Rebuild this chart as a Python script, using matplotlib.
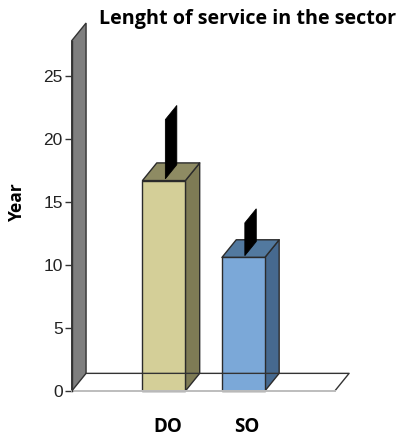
import matplotlib
matplotlib.use("Agg")
import matplotlib.pyplot as plt
from matplotlib.patches import Polygon

# mean years of service and upper end of the spread, per group
groups = ["DO", "SO"]
means = [16.7, 10.6]
upper = [21.4, 13.2]
yticks = [0, 5, 10, 15, 20, 25]

front_colors = ["#d4cf98", "#7ba8d8"]
top_colors = ["#8e8b63", "#52799f"]
side_colors = ["#7e7b55", "#46698f"]

DX, DY = 0.18, 1.4        # depth offset of the 3D box (data units)
HALF_W = 0.27             # half width of a bar front
WALL_X = -1.16            # left wall / value axis position
WALL_TOP = 27.8
FLOOR_RIGHT = 2.15


def box(ax, xc, h, front, top, side):
    x0, x1 = xc - HALF_W, xc + HALF_W
    kw = dict(edgecolor="#2b2b2b", linewidth=1.0, joinstyle="round")
    ax.add_patch(Polygon([(x1, 0), (x1 + DX, DY), (x1 + DX, h + DY), (x1, h)],
                         facecolor=side, **kw))
    ax.add_patch(Polygon([(x0, h), (x1, h), (x1 + DX, h + DY), (x0 + DX, h + DY)],
                         facecolor=top, **kw))
    ax.add_patch(Polygon([(x0, 0), (x1, 0), (x1, h), (x0, h)],
                         facecolor=front, **kw))


def pin(ax, xc, lo, hi):
    a, b = 0.1, 0.9
    ax.add_patch(Polygon([(xc + a * DX, lo + a * DY), (xc + b * DX, lo + b * DY),
                          (xc + b * DX, hi + b * DY), (xc + a * DX, hi + a * DY)],
                         facecolor="black", edgecolor="black", linewidth=0.6))


fig = plt.figure(figsize=(4.0, 4.36), dpi=100)
ax = fig.add_axes([0.1615, 0.0743, 0.745, 0.896])
ax.set_xlim(-1.25, 2.5)
ax.set_ylim(-1, 30)

# floor
ax.add_patch(Polygon([(WALL_X, 0), (FLOOR_RIGHT, 0), (FLOOR_RIGHT + DX, DY), (WALL_X + DX, DY)],
                     facecolor="white", edgecolor="none"))
ax.plot([WALL_X + DX, FLOOR_RIGHT + DX, FLOOR_RIGHT], [DY, DY, 0], color="#333333", lw=1.0)
ax.plot([WALL_X, FLOOR_RIGHT], [0, 0], color="#bdbdbd", lw=1.4)

# left wall
ax.add_patch(Polygon([(WALL_X, 0), (WALL_X, WALL_TOP), (WALL_X + DX, WALL_TOP + DY), (WALL_X + DX, DY)],
                     facecolor="#7f7f7f", edgecolor="#333333", linewidth=1.0))

for i, g in enumerate(groups):
    box(ax, i, means[i], front_colors[i], top_colors[i], side_colors[i])
    pin(ax, i, means[i], upper[i])

for s in ["top", "right", "bottom"]:
    ax.spines[s].set_visible(False)
ax.spines["left"].set_position(("data", WALL_X))
ax.spines["left"].set_bounds(0, WALL_TOP)
ax.spines["left"].set_color("#333333")
ax.spines["left"].set_linewidth(1.0)

ax.set_yticks(yticks)
ax.set_yticklabels([str(t) for t in yticks], fontfamily="Liberation Sans", fontsize=12.5)
ax.tick_params(axis="y", length=5, width=1.0, pad=1.5, color="#333333", labelcolor="#222222")

ax.set_xticks([i + DX * 0.25 for i in range(len(groups))])
ax.set_xticklabels(groups, fontfamily="Open Sans", fontweight="bold", fontsize=13.5)
ax.tick_params(axis="x", length=0, pad=10)

fig.text(0.618, 0.957, "Lenght of service in the sector", ha="center", va="center",
         fontfamily="Open Sans", fontweight="bold", fontsize=14.2)
fig.text(0.042, 0.537, "Year", rotation=90, ha="center", va="center",
         fontfamily="Open Sans", fontweight="bold", fontsize=12.5)

fig.savefig("out.png", dpi=100)
